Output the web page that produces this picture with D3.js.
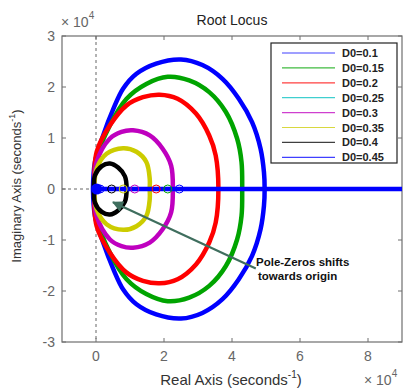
<!DOCTYPE html>
<html>
<head>
<meta charset="utf-8">
<script src="https://cdn.jsdelivr.net/npm/d3@7"></script>
<style>
  body { margin: 0; background: #fff; }
  text { font-family: "Liberation Sans", Arial, sans-serif; }
</style>
</head>
<body>
<div id="chart"></div>
<script>
// legend labels and colours (one per damping value)
var seriesNames = ["D0=0.1", "D0=0.15", "D0=0.2", "D0=0.25", "D0=0.3", "D0=0.35", "D0=0.4", "D0=0.45"];
var seriesColors = ["#0000ff", "#00a400", "#ff0000", "#00bfbf", "#bf00bf", "#cccc00", "#000000", "#0000ff"];

// upper half of each locus branch, [real, imag] in units of 1e4
var locusD010 = [[-0.09,0],[-0.03,0.53],[0.21,1.05],[0.51,1.57],[0.80,1.97],[1.19,2.26],[1.77,2.46],[2.50,2.54],[3.13,2.43],[3.72,2.16],[4.20,1.77],[4.59,1.31],[4.84,0.79],[4.94,0.33],[4.96,0]];
var locusD015 = [[-0.05,0],[0.02,0.59],[0.41,1.25],[0.90,1.77],[1.48,2.06],[2.11,2.20],[2.74,2.13],[3.33,1.90],[3.82,1.51],[4.15,0.99],[4.28,0.53],[4.30,0]];
var locusD020 = [[-0.05,0],[0.02,0.73],[0.41,1.25],[0.90,1.64],[1.38,1.80],[1.87,1.85],[2.40,1.77],[2.94,1.48],[3.33,1.05],[3.52,0.66],[3.60,0]];
var locusD030 = [[-0.05,0],[0.02,0.53],[0.41,0.99],[0.75,1.12],[1.09,1.15],[1.58,1.05],[1.96,0.79],[2.21,0.46],[2.26,0]];
var locusD035 = [[-0.05,0],[0.02,0.40],[0.31,0.69],[0.80,0.80],[1.19,0.73],[1.48,0.53],[1.58,0.20],[1.58,0]];
var locusD040 = [[-0.06,0],[-0.03,0.27],[0.17,0.45],[0.41,0.50],[0.65,0.42],[0.85,0.25],[0.90,0]];
var realBranch = [[-0.08,0],[9,0]];

// zero markers on the real axis
var zeroRe = [0.12, 0.46, 0.80, 1.14, 1.77, 2.11, 2.45];
var zeroColors = ["#0000ff", "#000000", "#cccc00", "#bf00bf", "#ff0000", "#00a400", "#0000ff"];

var xTicks = [0, 2, 4, 6, 8];
var yTicks = [-3, -2, -1, 0, 1, 2, 3];

var W = 406, H = 392;
var margin = {top: 36, right: 4, bottom: 50, left: 62};

var svg = d3.select("#chart").append("svg")
    .attr("width", W)
    .attr("height", H);

var x = d3.scaleLinear().domain([-1, 9]).range([margin.left, W - margin.right]);
var y = d3.scaleLinear().domain([-3, 3]).range([H - margin.bottom, margin.top]);

svg.append("defs").append("clipPath").attr("id", "plotclip")
  .append("rect")
    .attr("x", x(-1)).attr("y", y(3))
    .attr("width", x(9) - x(-1)).attr("height", y(-3) - y(3));

var axisColor = "#6e6e6e";

// box
svg.append("rect")
    .attr("x", x(-1)).attr("y", y(3))
    .attr("width", x(9) - x(-1)).attr("height", y(-3) - y(3))
    .attr("fill", "none").attr("stroke", axisColor).attr("stroke-width", 1.2);

// ticks (inward, all four sides)
xTicks.forEach(function(t) {
    svg.append("line").attr("x1", x(t)).attr("x2", x(t)).attr("y1", y(-3)).attr("y2", y(-3) - 4).attr("stroke", axisColor);
    svg.append("line").attr("x1", x(t)).attr("x2", x(t)).attr("y1", y(3)).attr("y2", y(3) + 4).attr("stroke", axisColor);
    svg.append("text").attr("x", x(t)).attr("y", y(-3) + 19)
        .attr("text-anchor", "middle").attr("font-size", 14).attr("fill", "#666").text(t);
});
yTicks.forEach(function(t) {
    svg.append("line").attr("x1", x(-1)).attr("x2", x(-1) + 4).attr("y1", y(t)).attr("y2", y(t)).attr("stroke", axisColor);
    svg.append("line").attr("x1", x(9)).attr("x2", x(9) - 4).attr("y1", y(t)).attr("y2", y(t)).attr("stroke", axisColor);
    svg.append("text").attr("x", x(-1) - 7).attr("y", y(t) + 5)
        .attr("text-anchor", "end").attr("font-size", 14).attr("fill", "#666").text(t);
});

// dashed reference lines
svg.append("line")
    .attr("x1", x(0)).attr("x2", x(0)).attr("y1", y(3)).attr("y2", y(-3))
    .attr("stroke", "#666").attr("stroke-dasharray", "3,3");
svg.append("line")
    .attr("x1", x(-1)).attr("x2", x(0)).attr("y1", y(0)).attr("y2", y(0))
    .attr("stroke", "#666").attr("stroke-dasharray", "3,3");

// loci: upper half then its mirror image
var line = d3.line()
    .x(function(d) { return x(d[0]); })
    .y(function(d) { return y(d[1]); })
    .curve(d3.curveCatmullRom);

function closedLocus(upper) {
    var lower = upper.slice().reverse().map(function(d) { return [d[0], -d[1]]; });
    return upper.concat(lower.slice(1));
}

var plot = svg.append("g").attr("clip-path", "url(#plotclip)");

var loci = [
    {pts: locusD010, color: seriesColors[0]},
    {pts: locusD015, color: seriesColors[1]},
    {pts: locusD020, color: seriesColors[2]},
    {pts: locusD030, color: seriesColors[4]},
    {pts: locusD035, color: seriesColors[5]},
    {pts: locusD040, color: seriesColors[6]}
];
loci.forEach(function(l) {
    plot.append("path")
        .attr("d", line(closedLocus(l.pts)))
        .attr("fill", "none")
        .attr("stroke", l.color)
        .attr("stroke-width", 4.5)
        .attr("stroke-linejoin", "round");
});

plot.append("path")
    .attr("d", d3.line().x(function(d) { return x(d[0]); }).y(function(d) { return y(d[1]); })(realBranch))
    .attr("stroke", seriesColors[0]).attr("stroke-width", 4.5);

// blob of poles at origin
plot.append("circle").attr("cx", x(0.02)).attr("cy", y(0)).attr("r", 5.5).attr("fill", "#0000ff");

zeroRe.forEach(function(r, i) {
    plot.append("circle")
        .attr("cx", x(r)).attr("cy", y(0)).attr("r", 4)
        .attr("fill", "none").attr("stroke", zeroColors[i]).attr("stroke-width", 1);
});

// annotation arrow
var arrowColor = "#3f6e5e";
svg.select("defs").append("marker")
    .attr("id", "arrowhead")
    .attr("viewBox", "0 0 10 10")
    .attr("refX", 9).attr("refY", 5)
    .attr("markerWidth", 6).attr("markerHeight", 5)
    .attr("orient", "auto")
  .append("path").attr("d", "M0,0 L10,5 L0,10 z").attr("fill", arrowColor);

svg.append("line")
    .attr("x1", x(4.7)).attr("y1", y(-1.56))
    .attr("x2", x(0.5)).attr("y2", y(-0.26))
    .attr("stroke", arrowColor).attr("stroke-width", 2.2)
    .attr("marker-end", "url(#arrowhead)");

svg.append("text").attr("x", 256).attr("y", 266)
    .attr("font-size", 11.5).attr("font-weight", "bold").attr("fill", "#111").text("Pole-Zeros shifts");
svg.append("text").attr("x", 258).attr("y", 280)
    .attr("font-size", 11.5).attr("font-weight", "bold").attr("fill", "#111").text("towards origin");

// legend
var lg = svg.append("g").attr("transform", "translate(271,43)");
lg.append("rect").attr("width", 126).attr("height", 120)
    .attr("fill", "#fff").attr("stroke", "#222").attr("stroke-width", 1.2);
seriesNames.forEach(function(name, i) {
    var yy = 10 + i * 14.9;
    lg.append("line").attr("x1", 11).attr("x2", 64).attr("y1", yy).attr("y2", yy)
        .attr("stroke", seriesColors[i]).attr("stroke-width", 1.2).attr("opacity", 0.75);
    lg.append("text").attr("x", 71).attr("y", yy + 4)
        .attr("font-size", 11).attr("font-weight", "bold").attr("fill", "#222").text(name);
});

// titles and labels
svg.append("text").attr("x", 232).attr("y", 25)
    .attr("text-anchor", "middle").attr("font-size", 14).attr("fill", "#222").text("Root Locus");

var exTop = svg.append("text").attr("x", 61).attr("y", 27).attr("font-size", 14).attr("fill", "#666");
exTop.append("tspan").text("\u00d7 10");
exTop.append("tspan").attr("dy", -8).attr("font-size", 10).text("4");

var exBot = svg.append("text").attr("x", 364).attr("y", 385).attr("font-size", 14).attr("fill", "#666");
exBot.append("tspan").text("\u00d7 10");
exBot.append("tspan").attr("dy", -8).attr("font-size", 10).text("4");

var xl = svg.append("text").attr("x", 231).attr("y", 385)
    .attr("text-anchor", "middle").attr("font-size", 15).attr("fill", "#333");
xl.append("tspan").text("Real Axis (seconds");
xl.append("tspan").attr("dy", -7).attr("font-size", 10).text("-1");
xl.append("tspan").attr("dy", 7).text(")");

var yl = svg.append("text")
    .attr("transform", "translate(21,186) rotate(-90)")
    .attr("text-anchor", "middle").attr("font-size", 13).attr("fill", "#333");
yl.append("tspan").text("Imaginary Axis (seconds");
yl.append("tspan").attr("dy", -6).attr("font-size", 9).text("-1");
yl.append("tspan").attr("dy", 6).text(")");
</script>
</body>
</html>
